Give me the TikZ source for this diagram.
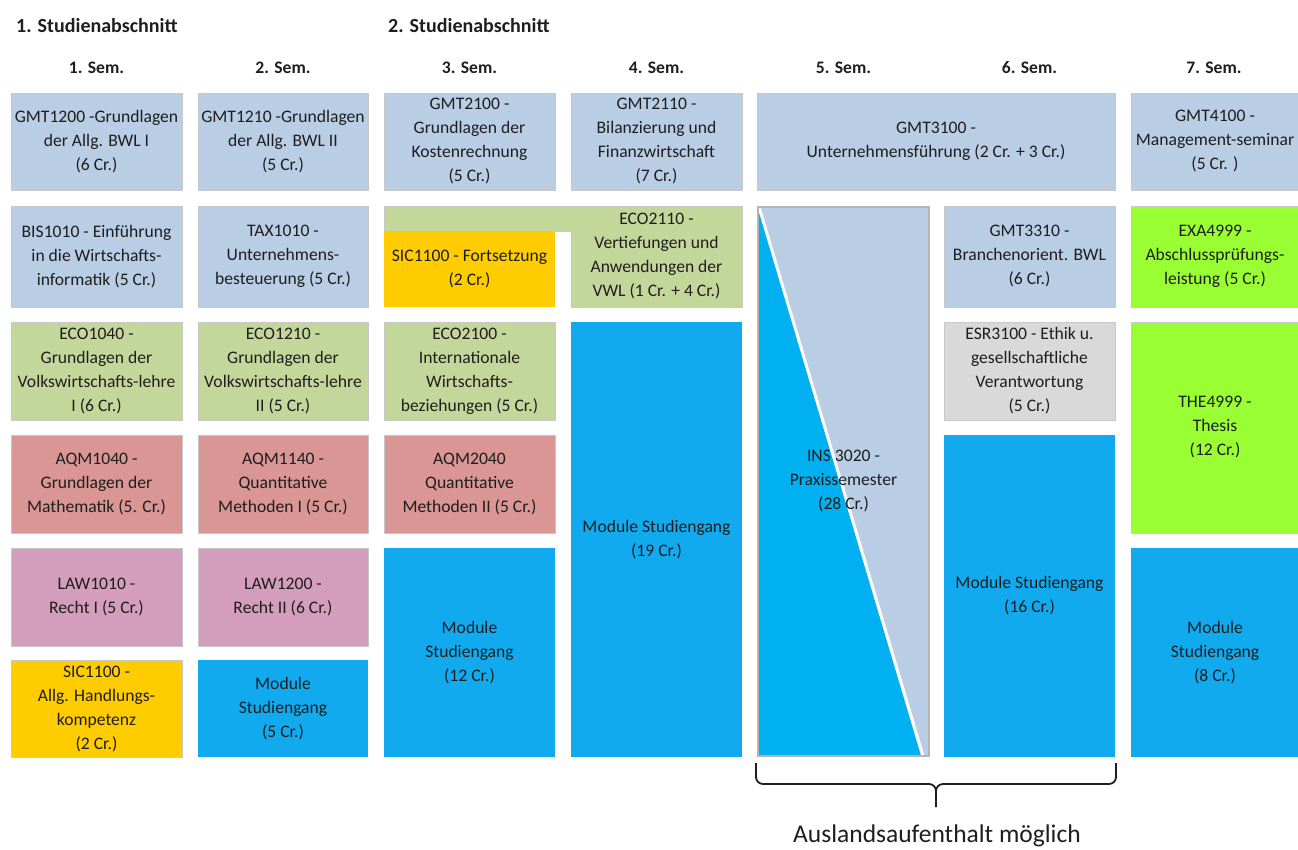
\documentclass[tikz,border=0pt]{standalone}
\usepackage{fontspec}
\setmainfont{Carlito}
\definecolor{bgrey}{HTML}{B9CDE5}
\definecolor{bgreen}{HTML}{C4D79B}
\definecolor{bred}{HTML}{DA9694}
\definecolor{bpink}{HTML}{D49DBC}
\definecolor{byellow}{HTML}{FFCC00}
\definecolor{bgray}{HTML}{D9D9D9}
\definecolor{blime}{HTML}{99FF33}
\definecolor{bmod}{HTML}{12AAEE}
\definecolor{bins}{HTML}{00B0F0}
\definecolor{txt}{HTML}{1E1E1E}
\definecolor{edge}{HTML}{C8C8C8}
\tikzset{
  box/.style={draw=edge, line width=0.8pt, anchor=north west, inner sep=0pt, outer sep=0pt,
    align=center, font=\fontsize{17.6}{24}\selectfont, text=txt},
  hdr/.style={font=\bfseries\fontsize{17.6}{20}\selectfont, text=txt, inner sep=0pt},
  bighdr/.style={font=\bfseries\fontsize{20}{24}\selectfont, text=txt, inner sep=0pt, anchor=west},
  c1/.style={minimum width=171pt}, c2/.style={minimum width=170pt},
  c7/.style={minimum width=168pt},
  rA/.style={minimum height=97pt}, rB/.style={minimum height=101pt},
  rC/.style={minimum height=98pt},
  bracestyle/.style={draw=txt, line width=1.8pt, rounded corners=7pt},
}
\begin{document}
\begin{tikzpicture}[x=1pt,y=-1pt]
\useasboundingbox (0,0) rectangle (1298,849);
% headers
\node[bighdr] (h1) at (16,26) {1. Studienabschnitt};
\node[bighdr] (h2) at (388,26) {2. Studienabschnitt};
\node[hdr] (s1) at (96.5,68) {1. Sem.};
\node[hdr] (s2) at (283,68) {2. Sem.};
\node[hdr] (s3) at (469.5,68) {3. Sem.};
\node[hdr] (s4) at (656.5,68) {4. Sem.};
\node[hdr] (s5) at (843.5,68) {5. Sem.};
\node[hdr] (s6) at (1029.5,68) {6. Sem.};
\node[hdr] (s7) at (1214,68) {7. Sem.};
% column 1
\node[box, c1, rA, fill=bgrey] (gmt1200) at (11,93) {GMT1200 -Grundlagen\\der Allg. BWL I\\(6 Cr.)};
\node[box, c1, rB, fill=bgrey] (bis1010) at (11,206) {BIS1010 - Einführung\\in die Wirtschafts-\\informatik (5 Cr.)};
\node[box, c1, rC, fill=bgreen] (eco1040) at (11,322) {ECO1040 -\\Grundlagen der\\Volkswirtschafts-lehre\\I (6 Cr.)};
\node[box, c1, rC, fill=bred] (aqm1040) at (11,435) {AQM1040 -\\Grundlagen der\\Mathematik (5. Cr.)};
\node[box, c1, rC, fill=bpink] (law1010) at (11,548) {LAW1010 -\\Recht I (5 Cr.)};
\node[box, c1, rA, fill=byellow] (sic1100) at (11,660) {SIC1100 -\\Allg. Handlungs-\\kompetenz\\(2 Cr.)};
% column 2
\node[box, c2, rA, fill=bgrey] (gmt1210) at (198,93) {GMT1210 -Grundlagen\\der Allg. BWL II\\(5 Cr.)};
\node[box, c2, rB, fill=bgrey] (tax1010) at (198,206) {TAX1010 -\\Unternehmens-\\besteuerung (5 Cr.)};
\node[box, c2, rC, fill=bgreen] (eco1210) at (198,322) {ECO1210 -\\Grundlagen der\\Volkswirtschafts-lehre\\II (5 Cr.)};
\node[box, c2, rC, fill=bred] (aqm1140) at (198,435) {AQM1140 -\\Quantitative\\Methoden I (5 Cr.)};
\node[box, c2, rC, fill=bpink] (law1200) at (198,548) {LAW1200 -\\Recht II (6 Cr.)};
\node[box, c2, rA, fill=bmod, draw=none] (mod2) at (198,660) {Module\\Studiengang\\(5 Cr.)};
% column 3
\node[box, c1, rA, fill=bgrey] (gmt2100) at (384,93) {GMT2100 -\\Grundlagen der\\Kostenrechnung\\(5 Cr.)};
\fill[bgreen, draw=edge, line width=0.8pt] (384,206) -- (742,206) -- (742,307) -- (571,307) -- (571,231) -- (384,231) -- cycle;
\node[box, c1, minimum height=76pt, fill=byellow, draw=none] (sic1100f) at (384,231) {SIC1100 - Fortsetzung\\(2 Cr.)};
\node[box, c1, rC, fill=bgreen] (eco2100) at (384,322) {ECO2100 -\\Internationale\\Wirtschafts-\\beziehungen (5 Cr.)};
\node[box, c1, rC, fill=bred] (aqm2040) at (384,435) {AQM2040\\Quantitative\\Methoden II (5 Cr.)};
\node[box, c1, minimum height=209pt, fill=bmod, draw=none] (mod3) at (384,548) {Module\\Studiengang\\(12 Cr.)};
% column 4
\node[box, c1, rA, fill=bgrey] (gmt2110) at (571,93) {GMT2110 -\\Bilanzierung und\\Finanzwirtschaft\\(7 Cr.)};
\node[box, c1, rB, draw=none] (eco2110) at (571,206) {ECO2110 -\\Vertiefungen und\\Anwendungen der\\VWL (1 Cr. + 4 Cr.)};
\node[box, c1, minimum height=435pt, fill=bmod, draw=none] (mod4) at (571,322) {Module Studiengang\\(19 Cr.)};
% columns 5-6 top
\node[box, minimum width=358pt, rA, fill=bgrey] (gmt3100) at (757,93) {GMT3100 -\\Unternehmensführung (2 Cr. + 3 Cr.)};
% column 5: INS
\fill[bgrey] (758,207) rectangle (929,756);
\fill[bins] (758,207) -- (921,756) -- (758,756) -- cycle;
\draw[white, line width=3pt] (759,207) -- (923,756);
\draw[edge!90!black, line width=2.5pt] (758,207) rectangle (929,756);
\node[box, draw=none, minimum width=173pt, minimum height=551pt] (ins3020) at (757,206) {INS 3020 -\\Praxissemester\\(28 Cr.)};
% column 6
\node[box, c1, rB, fill=bgrey] (gmt3310) at (944,206) {GMT3310 -\\Branchenorient. BWL\\(6 Cr.)};
\node[box, c1, rC, fill=bgray] (esr3100) at (944,322) {ESR3100 - Ethik u.\\gesellschaftliche\\Verantwortung\\(5 Cr.)};
\node[box, c1, minimum height=322pt, fill=bmod, draw=none] (mod6) at (944,435) {Module Studiengang\\(16 Cr.)};
% column 7
\node[box, c7, rA, fill=bgrey] (gmt4100) at (1131,93) {GMT4100 -\\Management-seminar\\(5 Cr. )};
\node[box, c7, rB, fill=blime] (exa4999) at (1131,206) {EXA4999 -\\Abschlussprüfungs-\\leistung (5 Cr.)};
\node[box, c7, minimum height=211pt, fill=blime] (the4999) at (1131,322) {THE4999 -\\Thesis\\(12 Cr.)};
\node[box, c7, minimum height=209pt, fill=bmod, draw=none] (mod7) at (1131,548) {Module\\Studiengang\\(8 Cr.)};
% brace
\coordinate (bl) at (756,763);
\coordinate (br) at (1116,763);
\coordinate (btip) at (936,807);
\draw[bracestyle] (bl) -- (756,784) -- (936,784) -- (btip);
\draw[bracestyle] (br) -- (1116,784) -- (936,784) -- (btip);
\node[font=\fontsize{25.5}{30}\selectfont, text=txt] (ausl) at (937,836) {Auslandsaufenthalt möglich};
\end{tikzpicture}
\end{document}
